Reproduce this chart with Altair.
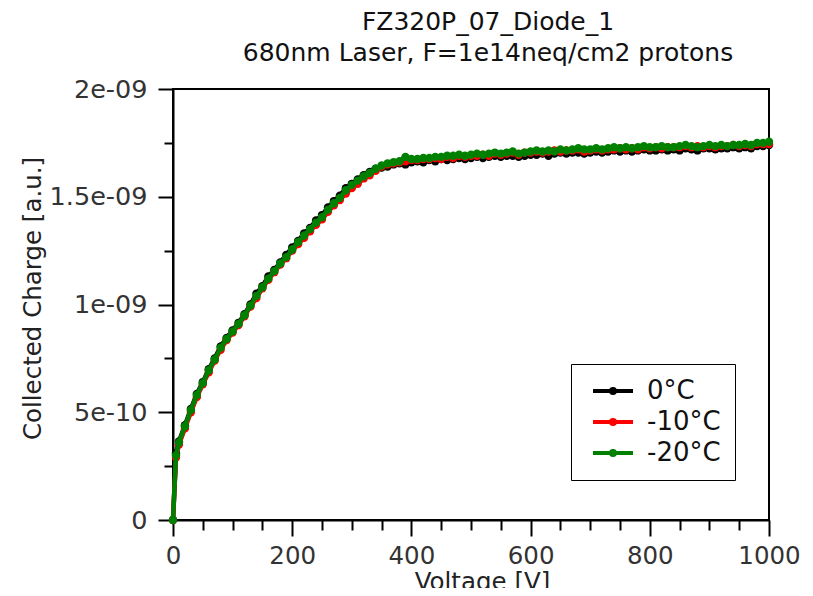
import altair as alt
import pandas as pd

# ---------------- data (charge in units of 1e-10 a.u.) ----------------
voltages = [0, 5, 10, 20, 30, 40, 50, 60, 70, 80, 90, 100,
            110, 120, 130, 140, 150, 160, 170, 180, 190, 200,
            210, 220, 230, 240, 250, 260, 270, 280, 290, 300,
            310, 320, 330, 340, 350, 360, 370, 380, 390, 400,
            410, 420, 430, 440, 450, 460, 470, 480, 490, 500,
            510, 520, 530, 540, 550, 560, 570, 580, 590, 600,
            610, 620, 630, 640, 650, 660, 670, 680, 690, 700,
            710, 720, 730, 740, 750, 760, 770, 780, 790, 800,
            810, 820, 830, 840, 850, 860, 870, 880, 890, 900,
            910, 920, 930, 940, 950, 960, 970, 980, 990, 1000]

charge_0C = [0, 3.1, 3.65, 4.4, 5.15, 5.85, 6.4, 7.0, 7.5, 8.05, 8.45, 8.8,
             9.15, 9.55, 10.0, 10.5, 10.85, 11.3, 11.6, 11.95, 12.3, 12.65,
             12.95, 13.3, 13.55, 13.9, 14.15, 14.5, 14.8, 15.05, 15.4, 15.6,
             15.8, 16.0, 16.15, 16.3, 16.35, 16.4, 16.5, 16.55, 16.5, 16.6,
             16.65, 16.6, 16.7, 16.65, 16.75, 16.7, 16.75, 16.8, 16.75, 16.8,
             16.85, 16.8, 16.85, 16.9, 16.85, 16.9, 16.9, 16.85, 16.9, 16.95,
             16.95, 17.0, 16.9, 17.0, 17.05, 17.0, 17.05, 17.05, 17.0, 17.05,
             17.1, 17.05, 17.1, 17.15, 17.1, 17.15, 17.1, 17.15, 17.2, 17.15,
             17.15, 17.2, 17.15, 17.2, 17.15, 17.25, 17.2, 17.15, 17.25, 17.25,
             17.2, 17.25, 17.25, 17.3, 17.25, 17.3, 17.25, 17.35, 17.35, 17.4]

charge_m10C = [0, 2.9, 3.5, 4.25, 5.0, 5.7, 6.3, 6.85, 7.4, 7.9, 8.35, 8.7,
               9.05, 9.45, 9.9, 10.3, 10.75, 11.15, 11.5, 11.85, 12.15, 12.5,
               12.8, 13.1, 13.4, 13.7, 13.95, 14.3, 14.6, 14.85, 15.15, 15.4,
               15.6, 15.85, 16.0, 16.2, 16.4, 16.5, 16.55, 16.6, 16.65, 16.7,
               16.7, 16.75, 16.75, 16.8, 16.75, 16.85, 16.8, 16.9, 16.85, 16.9,
               16.9, 16.95, 16.9, 17.0, 16.95, 17.0, 17.05, 16.95, 17.05, 17.05,
               17.1, 17.05, 17.1, 17.15, 17.1, 17.15, 17.15, 17.2, 17.1, 17.15,
               17.2, 17.15, 17.2, 17.2, 17.25, 17.2, 17.25, 17.2, 17.3, 17.25,
               17.3, 17.25, 17.3, 17.3, 17.3, 17.35, 17.3, 17.35, 17.3, 17.35,
               17.3, 17.35, 17.35, 17.4, 17.35, 17.4, 17.35, 17.45, 17.45, 17.45]

charge_m20C = [0, 3.0, 3.6, 4.35, 5.1, 5.8, 6.35, 6.95, 7.45, 8.0, 8.4, 8.75,
               9.1, 9.5, 9.95, 10.4, 10.8, 11.2, 11.55, 11.9, 12.2, 12.55,
               12.9, 13.2, 13.5, 13.8, 14.05, 14.4, 14.7, 14.95, 15.3, 15.55,
               15.75, 15.95, 16.1, 16.3, 16.45, 16.55, 16.6, 16.65, 16.85, 16.75,
               16.75, 16.8, 16.8, 16.85, 16.85, 16.9, 16.9, 16.95, 16.9, 16.95,
               17.0, 16.95, 17.0, 17.05, 17.0, 17.05, 17.1, 17.0, 17.05, 17.1,
               17.15, 17.1, 17.15, 17.1, 17.2, 17.15, 17.2, 17.25, 17.2, 17.2,
               17.25, 17.2, 17.25, 17.3, 17.25, 17.3, 17.25, 17.3, 17.35, 17.3,
               17.3, 17.35, 17.3, 17.3, 17.35, 17.4, 17.35, 17.3, 17.35, 17.4,
               17.35, 17.4, 17.35, 17.4, 17.4, 17.45, 17.4, 17.5, 17.5, 17.55]

series_names = ["0°C", "-10°C", "-20°C"]
series_colors = ["#000000", "#ff0000", "#008000"]

x_ticks = [0, 50, 100, 150, 200, 250, 300, 350, 400, 450, 500,
           550, 600, 650, 700, 750, 800, 850, 900, 950, 1000]
x_tick_labels = ["0", "200", "400", "600", "800", "1000"]
x_label_values = [0, 200, 400, 600, 800, 1000]

y_ticks = [0, 2.5, 5, 7.5, 10, 12.5, 15, 17.5, 20]
y_label_values = [0, 5, 10, 15, 20]
y_tick_labels = ["0", "5e-10", "1e-09", "1.5e-09", "2e-09"]

title_lines = ["FZ320P_07_Diode_1", "680nm Laser, F=1e14neq/cm2 protons"]

# ---------------- table ----------------
rows = []
for name, vals in zip(series_names, [charge_0C, charge_m10C, charge_m20C]):
    for v, q in zip(voltages, vals):
        rows.append({"series": name, "voltage": v, "charge": q})
df = pd.DataFrame(rows)

FONT = "DejaVu Sans"


def js_list(items):
    return "[" + ",".join(repr(i) if isinstance(i, str) else str(i) for i in items) + "]"


x_label_expr = (f"indexof({js_list(x_label_values)}, datum.value) >= 0 ? "
                f"{js_list(x_tick_labels)}[indexof({js_list(x_label_values)}, datum.value)] : ''")
y_label_expr = (f"indexof({js_list(y_label_values)}, datum.value) >= 0 ? "
                f"{js_list(y_tick_labels)}[indexof({js_list(y_label_values)}, datum.value)] : ''")

x_axis = alt.Axis(
    values=x_ticks, title="Voltage [V]", labelExpr=x_label_expr,
    tickSize={"condition": {"test": "datum.value % 200 === 0", "value": 16}, "value": 10},
    labelPadding=8, labelFlush=False, labelOverlap=False,
    labelFontSize=24.5, labelFont=FONT, labelColor="#333333",
    titleFontSize=24.5, titleFont=FONT, titleFontWeight="normal", titleColor="#222222",
    titleX=309, titleY=69, titleBaseline="alphabetic", titleAlign="center",
    domainColor="black", domainWidth=2, tickColor="black", tickWidth=2, grid=False,
)
y_axis = alt.Axis(
    values=y_ticks, title="Collected Charge [a.u.]", labelExpr=y_label_expr,
    tickSize={"condition": {"test": "datum.value % 5 === 0", "value": 15}, "value": 9},
    labelPadding=11, labelFlush=False, labelOverlap=False,
    labelFontSize=25.5, labelFont=FONT, labelColor="#333333",
    titleFontSize=24.5, titleFont=FONT, titleFontWeight="normal", titleColor="#222222",
    titleX=-140, titleY=209, titleAngle=270, titleBaseline="middle", titleAlign="center",
    domainColor="black", domainWidth=2, tickColor="black", tickWidth=2, grid=False,
)

color_enc = alt.Color(
    "series:N",
    scale=alt.Scale(domain=series_names, range=series_colors),
    sort=series_names,
    legend=alt.Legend(
        title=None, orient="none", legendX=398, legendY=275,
        direction="vertical",
        symbolType="M-2,0H2M0.2,0A0.2,0.2,0,1,1,-0.2,0A0.2,0.2,0,1,1,0.2,0",
        symbolSize=400, symbolStrokeWidth=4, symbolOffset=15,
        labelFontSize=26, labelFont=FONT, labelColor="#111111", labelOffset=21,
        rowPadding=5, padding=14, strokeColor="black", fillColor="white",
        cornerRadius=0,
    ),
)

layers = []
for name in series_names:
    layers.append(
        alt.Chart(df)
        .transform_filter(alt.datum.series == name)
        .mark_line(strokeWidth=4.5,
                   point=alt.OverlayMarkDef(filled=True, size=70, opacity=1))
        .encode(
            x=alt.X("voltage:Q", scale=alt.Scale(domain=[0, 1000], nice=False), axis=x_axis),
            y=alt.Y("charge:Q", scale=alt.Scale(domain=[0, 20], nice=False), axis=y_axis),
            color=color_enc,
        )
    )

chart = (
    alt.layer(*layers)
    .properties(
        width=596, height=431,
        title=alt.Title(title_lines, fontSize=25, font=FONT, fontWeight="normal",
                        color="#111111", anchor="middle", dx=17, offset=27, dy=36,
                        baseline="alphabetic", lineHeight=31),
        autosize=alt.AutoSizeParams(type="none"),
        padding={"left": 165, "top": 81, "right": 36, "bottom": 68},
    )
    .configure(background="white",
               view=alt.ViewConfig(stroke="black", strokeWidth=2))
)

chart.save("out.html", embed_options={"renderer": "svg", "actions": False})
